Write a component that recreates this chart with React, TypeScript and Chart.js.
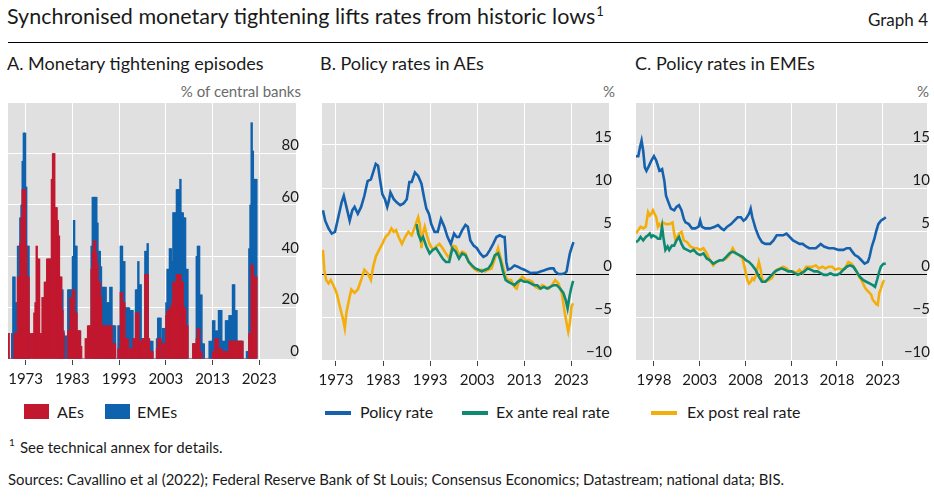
import React, { useEffect, useRef } from 'react';
import { Chart, registerables } from 'chart.js';

Chart.register(...registerables);

const FONT = "Lato, 'Noto Sans', sans-serif";
const TEXT = '#1a1a1a';
const GRAY_TEXT = '#6b6b6b';
const RED = '#c1182f';
const BLUE_BAR = '#0f62ad';
const POLICY_BLUE = '#1561ad';
const GREEN = '#0f8a72';
const YELLOW = '#f3ae0c';

// ---------- Panel A: share of central banks tightening (quarterly, from 1969 Q1) ----------
const A_START_YEAR = 1969;
const A_STEP = 0.25;
const aeShare = [
  10, 10, 0, 0, 0, 0, 10, 10, 10, 32, 32, 45, 55, 66, 66, 66,
  44, 32, 32, 10, 0, 10, 10, 18, 22, 44, 39, 39, 10, 10, 24, 24,
  30, 30, 39, 39, 39, 39, 70, 80, 80, 59, 59, 54, 48, 32, 32, 19,
  10, 0, 0, 0, 11, 11, 24, 24, 27, 27, 18, 18, 11, 11, 11, 5,
  0, 0, 0, 8, 8, 13, 13, 13, 35, 42, 46, 46, 41, 37, 30, 30,
  24, 13, 13, 13, 13, 13, 13, 13, 13, 13, 6, 6, 6, 0, 0, 4,
  4, 26, 26, 22, 22, 8, 8, 8, 4, 4, 4, 4, 8, 8, 18, 18,
  18, 7, 7, 7, 8, 8, 33, 33, 33, 8, 3, 3, 3, 0, 0, 0,
  4, 8, 8, 8, 0, 6, 6, 6, 17, 19, 19, 20, 20, 22, 30, 30,
  30, 33, 33, 33, 33, 30, 30, 20, 20, 13, 13, 0, 0, 0, 0, 6,
  6, 6, 8, 12, 12, 3, 3, 0, 0, 0, 0, 0, 0, 0, 0, 0,
  3, 3, 8, 8, 8, 4, 4, 4, 3, 3, 3, 3, 3, 3, 7, 7,
  7, 7, 7, 7, 7, 7, 7, 7, 7, 7, 0, 0, 0, 0, 0, 10,
  10, 37, 36, 32, 32, 32,
];
const emeShare = [
  0, 0, 0, 0, 10, 32, 32, 22, 22, 44, 44, 55, 60, 77, 88, 88,
  67, 44, 44, 10, 0, 0, 0, 0, 0, 0, 0, 0, 0, 0, 0, 0,
  0, 0, 0, 0, 0, 0, 0, 0, 0, 0, 0, 0, 0, 19, 19, 27,
  11, 9, 9, 9, 27, 27, 27, 27, 40, 54, 44, 44, 11, 11, 11, 0,
  0, 0, 0, 0, 0, 0, 0, 0, 44, 63, 63, 63, 63, 53, 42, 42,
  36, 28, 28, 28, 28, 22, 22, 22, 28, 28, 13, 13, 13, 0, 0, 13,
  13, 44, 44, 38, 38, 20, 20, 20, 20, 19, 19, 19, 6, 6, 27, 27,
  38, 29, 29, 8, 8, 8, 42, 42, 45, 8, 7, 7, 7, 0, 0, 0,
  8, 16, 16, 16, 7, 12, 12, 12, 22, 35, 35, 43, 43, 38, 57, 57,
  57, 66, 66, 66, 70, 57, 57, 55, 55, 35, 35, 0, 0, 0, 0, 6,
  6, 6, 40, 44, 44, 25, 25, 6, 6, 0, 0, 0, 0, 7, 7, 7,
  15, 15, 11, 11, 11, 19, 19, 19, 7, 7, 7, 15, 15, 15, 17, 17,
  17, 29, 29, 19, 19, 7, 7, 7, 7, 7, 0, 0, 0, 3, 3, 43,
  60, 92, 81, 70, 70, 70,
];
const aXTicks = [1973, 1983, 1993, 2003, 2013, 2023];

// ---------- Panel B: policy rates in AEs (%) ----------
const bPolicyYears = [
  1970.23, 1970.71, 1971.41, 1972.1, 1972.79, 1973.49, 1974.18, 1974.66, 1975.22, 1975.91,
  1976.47, 1976.95, 1977.64, 1978.34, 1979.03, 1979.72, 1980.42, 1981.11, 1981.45, 1981.94,
  1982.29, 1982.84, 1983.4, 1983.88, 1984.23, 1984.57, 1985.27, 1985.96, 1986.65, 1987.35,
  1988.04, 1988.59, 1989.08, 1989.77, 1990.46, 1991.16, 1991.71, 1992.2, 1992.75, 1993.24,
  1993.93, 1994.62, 1995.31, 1996.01, 1996.7, 1997.39, 1998.09, 1998.64, 1999.13, 1999.82,
  2000.51, 2001.0, 2001.55, 2002.24, 2002.94, 2003.63, 2004.32, 2005.02, 2005.71, 2006.4,
  2007.1, 2007.79, 2008.48, 2008.83, 2009.18, 2009.52, 2010.21, 2010.91, 2011.6, 2012.29,
  2012.99, 2013.68, 2014.37, 2015.07, 2015.76, 2016.45, 2017.14, 2017.84, 2018.53, 2019.22,
  2019.57, 2020.26, 2020.96, 2021.65, 2021.99, 2022.34, 2022.69, 2023.03, 2023.45,
];
const bPolicy = [
  7.4, 6.2, 5.3, 4.7, 4.9, 6.6, 8.3, 9.1, 7.8, 6.2,
  7.4, 7.8, 7.0, 7.8, 9.1, 10.8, 11.0, 12.2, 12.8, 12.6,
  11.2, 9.3, 8.7, 7.8, 8.5, 9.5, 8.7, 8.3, 8.0, 8.2,
  8.7, 10.7, 10.7, 11.8, 11.4, 10.5, 8.9, 7.6, 7.0, 5.8,
  4.9, 4.9, 6.4, 5.5, 4.3, 3.5, 4.7, 4.3, 4.3, 5.1,
  5.7, 5.5, 3.9, 3.3, 3.0, 2.4, 2.0, 2.2, 2.8, 3.5,
  4.3, 4.5, 4.3, 4.3, 1.4, 0.5, 0.65, 1.0, 0.85, 0.65,
  0.5, 0.3, 0.1, 0.15, 0.15, 0.3, 0.4, 0.55, 0.65, 0.65,
  0.3, 0.0, 0.0, 0.1, 0.3, 1.4, 2.4, 3.0, 3.7,
];
const bExAnteYears = [
  1990.12, 1990.46, 1991.02, 1991.5, 1992.2, 1992.89, 1993.58, 1994.28, 1994.97, 1995.66,
  1996.35, 1997.05, 1997.74, 1998.43, 1999.13, 1999.82, 2000.51, 2001.21, 2001.9, 2002.59,
  2003.28, 2003.98, 2004.67, 2005.36, 2006.06, 2006.75, 2007.44, 2007.93, 2008.48, 2009.04,
  2009.52, 2010.21, 2010.91, 2011.6, 2012.29, 2012.99, 2013.68, 2014.37, 2015.07, 2015.76,
  2016.45, 2017.14, 2017.84, 2018.53, 2019.22, 2019.92, 2020.61, 2021.3, 2021.79, 2022.2,
  2022.55, 2022.9, 2023.38,
];
const bExAnte = [
  5.8, 4.7, 3.9, 4.3, 3.2, 2.4, 2.8, 3.0, 2.4, 1.8,
  1.4, 1.4, 3.0, 2.6, 1.8, 2.4, 2.2, 1.4, 1.0, 0.65,
  0.5, 0.3, 0.5, 0.65, 1.2, 2.2, 2.4, 1.6, 0.3, -0.7,
  -0.9, -1.1, -1.3, -0.9, -0.7, -0.9, -0.9, -1.1, -1.3, -1.3,
  -1.7, -1.5, -1.7, -1.5, -1.3, -1.3, -1.7, -2.2, -3.0, -4.0,
  -2.8, -1.8, -0.8,
];
const bExPostYears = [
  1970.23, 1970.51, 1970.92, 1971.41, 1971.89, 1972.45, 1973.14, 1973.83, 1974.52, 1974.87,
  1975.22, 1975.77, 1976.26, 1976.95, 1977.64, 1978.34, 1979.03, 1979.72, 1980.42, 1980.9,
  1981.45, 1982.15, 1982.84, 1983.53, 1984.23, 1984.78, 1985.27, 1985.75, 1986.31, 1987.0,
  1987.69, 1988.38, 1989.08, 1989.77, 1990.46, 1990.81, 1991.16, 1991.5, 1991.85, 1992.4,
  1992.89, 1993.58, 1994.28, 1994.97, 1995.66, 1996.35, 1997.05, 1997.74, 1998.43, 1999.13,
  1999.82, 2000.51, 2001.21, 2001.9, 2002.59, 2003.28, 2003.98, 2004.67, 2005.36, 2006.06,
  2006.75, 2007.44, 2007.93, 2008.48, 2009.04, 2009.52, 2010.21, 2010.91, 2011.39, 2011.95,
  2012.64, 2013.33, 2014.03, 2014.72, 2015.41, 2016.1, 2016.8, 2017.49, 2018.18, 2018.88,
  2019.57, 2020.26, 2020.96, 2021.51, 2021.99, 2022.34, 2022.69, 2023.03, 2023.38,
];
const bExPost = [
  2.8, 0.5, -0.7, -1.1, -0.7, -1.3, -2.2, -3.8, -5.3, -6.3,
  -4.5, -3.0, -1.8, -2.2, -1.8, -0.7, 0.5, 0.1, -0.7, 0.85,
  2.0, 2.8, 3.5, 4.3, 4.7, 5.3, 4.9, 5.1, 4.3, 3.5,
  4.3, 4.9, 4.5, 5.5, 6.6, 5.8, 3.0, 4.8, 5.5, 4.3,
  3.5, 2.8, 3.2, 3.5, 3.0, 2.4, 1.8, 3.3, 3.2, 2.2,
  2.6, 2.4, 1.4, 0.85, 0.5, 0.3, 0.5, 0.3, 0.5, 0.65,
  1.8, 3.0, 2.0, 0.85, -0.3, -0.7, -0.7, -1.5, -1.7, -0.7,
  -0.3, -0.7, -0.7, -0.9, -1.5, -1.7, -1.3, -1.5, -1.7, -1.3,
  -0.7, -1.1, -2.2, -4.2, -5.7, -6.7, -5.7, -3.8, -3.4,
];
const bXTicks = [1973, 1983, 1993, 2003, 2013, 2023];

// ---------- Panel C: policy rates in EMEs (%) ----------
const cPolicyYears = [
  1996.04, 1996.29, 1996.47, 1996.65, 1996.83, 1997.0, 1997.18, 1997.47, 1997.72, 1998.0,
  1998.25, 1998.43, 1998.6, 1998.89, 1999.14, 1999.32, 1999.6, 1999.85, 2000.21, 2000.46,
  2000.74, 2001.02, 2001.27, 2001.45, 2001.81, 2002.16, 2002.52, 2002.88, 2003.05, 2003.23,
  2003.59, 2004.12, 2004.65, 2005.01, 2005.37, 2005.65, 2006.01, 2006.43, 2006.79, 2007.15,
  2007.5, 2007.79, 2008.04, 2008.39, 2008.57, 2008.75, 2009.1, 2009.46, 2009.81, 2010.17,
  2010.7, 2011.06, 2011.42, 2011.77, 2012.13, 2012.48, 2012.84, 2013.2, 2013.55, 2013.91,
  2014.26, 2014.62, 2014.98, 2015.33, 2015.69, 2016.04, 2016.22, 2016.58, 2017.11, 2017.64,
  2018.18, 2018.71, 2019.07, 2019.42, 2019.67, 2019.96, 2020.31, 2020.67, 2021.02, 2021.38,
  2021.56, 2021.81, 2022.09, 2022.27, 2022.52, 2022.8, 2023.09, 2023.34,
];
const cPolicy = [
  13.7, 13.7, 14.7, 15.5, 14.3, 12.4, 12.0, 12.6, 13.2, 13.7,
  13.2, 12.6, 12.0, 12.2, 10.8, 9.1, 8.3, 7.6, 7.4, 7.8,
  8.0, 7.4, 6.4, 6.0, 5.8, 5.3, 5.3, 5.5, 6.2, 5.5,
  5.3, 5.3, 5.5, 5.7, 5.3, 5.1, 5.5, 5.8, 6.2, 6.6,
  6.6, 6.2, 6.4, 7.0, 7.6, 6.6, 5.3, 4.3, 3.7, 3.5,
  3.5, 3.9, 4.5, 4.5, 4.5, 4.7, 4.3, 3.9, 3.7, 3.5,
  3.5, 3.2, 3.0, 3.0, 3.0, 3.3, 3.5, 3.2, 3.0, 3.0,
  2.8, 2.8, 3.0, 3.0, 2.6, 2.2, 2.0, 1.6, 1.2, 1.4,
  2.0, 3.2, 4.1, 4.9, 5.8, 6.2, 6.4, 6.6,
];
const cExAnteYears = [
  1996.04, 1996.29, 1996.54, 1996.83, 1997.11, 1997.36, 1997.54, 1997.72, 1997.89, 1998.25,
  1998.43, 1998.68, 1998.89, 1999.03, 1999.25, 1999.49, 1999.67, 1999.96, 2000.21, 2000.46,
  2000.74, 2001.02, 2001.27, 2001.63, 2001.99, 2002.34, 2002.7, 2003.05, 2003.41, 2003.77,
  2004.12, 2004.48, 2004.83, 2005.19, 2005.54, 2005.9, 2006.26, 2006.61, 2006.97, 2007.32,
  2007.68, 2008.04, 2008.39, 2008.75, 2009.1, 2009.46, 2009.81, 2010.17, 2010.53, 2010.88,
  2011.24, 2011.59, 2011.95, 2012.31, 2012.66, 2013.02, 2013.37, 2013.73, 2014.09, 2014.44,
  2014.8, 2015.15, 2015.51, 2015.86, 2016.22, 2016.58, 2016.93, 2017.29, 2017.64, 2018.0,
  2018.36, 2018.71, 2019.07, 2019.42, 2019.78, 2020.14, 2020.49, 2020.85, 2021.2, 2021.56,
  2021.91, 2022.16, 2022.38, 2022.63, 2022.8, 2023.09, 2023.34,
];
const cExAnte = [
  3.7, 3.9, 4.3, 3.9, 4.3, 4.5, 4.7, 4.3, 4.5, 4.3,
  4.1, 4.1, 5.5, 4.3, 2.8, 3.2, 2.8, 3.3, 3.3, 3.9,
  4.3, 3.5, 3.0, 2.8, 2.6, 2.8, 2.4, 2.2, 2.4, 1.8,
  1.6, 1.2, 1.4, 1.6, 1.6, 2.0, 2.4, 2.6, 2.4, 2.2,
  2.0, 1.6, 1.4, 1.0, 0.5, -0.3, -0.9, -0.9, -0.5, -0.1,
  0.3, 0.5, 0.65, 0.5, 0.3, 0.3, 0.1, -0.1, 0.1, 0.3,
  0.65, 0.5, 0.3, 0.3, 0.1, -0.1, -0.1, 0.1, -0.1, -0.1,
  0.1, 0.5, 0.85, 1.0, 0.85, 0.3, -0.3, -0.7, -0.9, -1.1,
  -1.3, -1.5, -0.7, 0.3, 0.85, 1.2, 1.2,
];
const cExPostYears = [
  1996.04, 1996.29, 1996.54, 1996.83, 1997.11, 1997.36, 1997.54, 1997.72, 1997.89, 1998.07,
  1998.25, 1998.43, 1998.6, 1998.78, 1998.96, 1999.32, 1999.67, 2000.03, 2000.21, 2000.38,
  2000.74, 2001.02, 2001.27, 2001.63, 2001.99, 2002.34, 2002.7, 2003.05, 2003.41, 2003.77,
  2004.12, 2004.48, 2004.83, 2005.19, 2005.54, 2005.9, 2006.26, 2006.61, 2006.97, 2007.32,
  2007.68, 2007.86, 2008.04, 2008.21, 2008.39, 2008.57, 2008.75, 2008.93, 2009.1, 2009.28,
  2009.46, 2009.64, 2009.81, 2009.99, 2010.17, 2010.53, 2010.88, 2011.06, 2011.42, 2011.77,
  2012.13, 2012.48, 2012.84, 2013.2, 2013.55, 2013.91, 2014.26, 2014.62, 2014.98, 2015.33,
  2015.69, 2016.04, 2016.4, 2016.75, 2017.11, 2017.47, 2017.82, 2018.18, 2018.53, 2018.89,
  2019.25, 2019.6, 2019.96, 2020.31, 2020.67, 2021.02, 2021.2, 2021.38, 2021.56, 2021.74,
  2021.91, 2022.09, 2022.27, 2022.45, 2022.63, 2022.8, 2022.98, 2023.16,
];
const cExPost = [
  4.7, 5.1, 5.5, 5.3, 5.5, 7.2, 6.8, 7.0, 7.4, 7.0,
  6.6, 5.5, 5.8, 5.5, 6.0, 5.8, 5.8, 6.0, 4.7, 3.9,
  4.7, 4.9, 3.9, 3.7, 3.2, 3.0, 3.0, 2.8, 3.0, 2.4,
  1.6, 1.0, 1.4, 1.6, 1.6, 1.8, 2.2, 3.0, 2.4, 2.2,
  1.8, 1.0, 0.1, -0.7, -1.1, -0.9, -0.5, -0.7, -0.3, 0.5,
  1.4, 0.65, -0.5, -0.9, -0.9, -0.7, -0.5, -0.1, 0.5, 0.65,
  0.85, 0.65, 0.3, 0.3, 0.1, 0.5, 0.1, 0.85, 0.85, 0.85,
  1.0, 0.65, 0.85, 0.65, 0.85, 0.85, 0.5, 0.65, 0.5, 0.65,
  1.4, 1.2, 0.65, -0.1, -0.7, -1.5, -1.8, -2.0, -2.2, -2.4,
  -3.0, -3.2, -3.5, -3.6, -2.2, -1.7, -1.1, -0.7,
];
const cXTicks = [1998, 2003, 2008, 2013, 2018, 2023];

// ---------- helpers ----------
const bgPlugin = {
  id: 'grayBg',
  beforeDraw(chart: any) {
    const { ctx, chartArea: a } = chart;
    ctx.save();
    ctx.fillStyle = '#e0e0e0';
    ctx.fillRect(a.left, a.top, a.right - a.left, a.bottom - a.top);
    ctx.restore();
  },
};

function xAxis(min: number, max: number, ticks: number[]) {
  return {
    type: 'linear',
    min,
    max,
    offset: false,
    afterBuildTicks: (s: any) => {
      s.ticks = ticks.map((v) => ({ value: v }));
    },
    afterFit: (s: any) => {
      s.height = 36;
    },
    grid: {
      color: '#ffffff',
      lineWidth: 1,
      offset: false,
      drawTicks: true,
      tickLength: 6,
      tickColor: '#444444',
      tickWidth: 1,
    },
    border: { display: false },
    ticks: {
      autoSkip: false,
      maxRotation: 0,
      padding: 5,
      color: TEXT,
      font: { family: FONT, size: 15 },
      callback: (v: any) => String(v),
    },
  };
}

function yAxis(min: number, max: number, step: number, zeroLine: boolean) {
  return {
    type: 'linear',
    position: 'right',
    min,
    max,
    grid: {
      color: (c: any) => (zeroLine && c.tick && c.tick.value === 0 ? '#000000' : '#ffffff'),
      lineWidth: 1,
      drawTicks: false,
    },
    border: { display: false },
    ticks: {
      stepSize: step,
      mirror: true,
      padding: 3,
      labelOffset: -8,
      color: TEXT,
      font: { family: FONT, size: 15 },
      callback: (v: any) => (v === max ? '' : String(v).replace('-', '\u2212')),
    },
  };
}

function pts(xs: number[], ys: number[]) {
  return ys.map((y, i) => ({ x: xs[i], y }));
}

function panelAConfig(): any {
  const toBars = (arr: number[]) => arr.map((v, i) => ({ x: A_START_YEAR + i * A_STEP + A_STEP / 2, y: v }));
  const common = { grouped: false, barThickness: 2, borderWidth: 0, inflateAmount: 0.2 };
  return {
    type: 'bar',
    data: {
      datasets: [
        { label: 'AEs', data: toBars(aeShare), backgroundColor: RED, ...common },
        { label: 'EMEs', data: toBars(emeShare), backgroundColor: BLUE_BAR, ...common },
      ],
    },
    options: {
      animation: false,
      responsive: false,
      layout: { padding: { left: 8, top: 20, right: 0, bottom: 0 } },
      plugins: { legend: { display: false }, tooltip: { enabled: false } },
      scales: { x: xAxis(1969.23, 2030.86, aXTicks), y: yAxis(0, 100, 20, false) },
    },
    plugins: [bgPlugin],
  };
}

function lineConfig(
  xMin: number,
  xMax: number,
  ticks: number[],
  policy: any[],
  exAnte: any[],
  exPost: any[]
): any {
  const ds = (label: string, data: any[], color: string) => ({
    label,
    data,
    borderColor: color,
    backgroundColor: color,
    borderWidth: 2.6,
    pointRadius: 0,
    tension: 0,
    fill: false,
  });
  return {
    type: 'line',
    data: {
      datasets: [
        ds('Policy rate', policy, POLICY_BLUE),
        ds('Ex ante real rate', exAnte, GREEN),
        ds('Ex post real rate', exPost, YELLOW),
      ],
    },
    options: {
      animation: false,
      responsive: false,
      layout: { padding: { left: 10, top: 20, right: 0, bottom: 0 } },
      plugins: { legend: { display: false }, tooltip: { enabled: false } },
      scales: { x: xAxis(xMin, xMax, ticks), y: yAxis(-10, 20, 5, true) },
    },
    plugins: [bgPlugin],
  };
}

function ChartCanvas(props: { left: number; top: number; width: number; height: number; make: () => any }) {
  const ref = useRef<HTMLCanvasElement | null>(null);
  useEffect(() => {
    const chart = new Chart(ref.current as HTMLCanvasElement, props.make());
    return () => chart.destroy();
  }, []);
  return (
    <canvas
      ref={ref}
      width={props.width}
      height={props.height}
      style={{ position: 'absolute', left: props.left, top: props.top, width: props.width, height: props.height }}
    />
  );
}

function Txt(props: { left?: number; right?: number; top: number; size: number; color?: string; children: any }) {
  const st: any = {
    position: 'absolute',
    top: props.top,
    fontSize: props.size,
    lineHeight: `${props.size}px`,
    color: props.color || TEXT,
    whiteSpace: 'nowrap',
    fontFamily: FONT,
  };
  if (props.left !== undefined) st.left = props.left;
  if (props.right !== undefined) st.right = props.right;
  return <div style={st}>{props.children}</div>;
}

function Box(props: { left: number; top: number; width: number; height: number; color: string }) {
  return (
    <div
      style={{
        position: 'absolute',
        left: props.left,
        top: props.top,
        width: props.width,
        height: props.height,
        background: props.color,
      }}
    />
  );
}

export default function App() {
  return (
    <div
      style={{
        position: 'absolute',
        left: 0,
        top: 0,
        width: 934,
        height: 498,
        background: '#ffffff',
        fontFamily: FONT,
        overflow: 'hidden',
      }}
    >
      <Txt left={7} top={6} size={21.5}>
        Synchronised monetary tightening lifts rates from historic lows
        <span style={{ fontSize: 13, position: 'relative', top: -8, marginLeft: 1 }}>1</span>
      </Txt>
      <Txt right={6} top={11} size={17}>
        Graph 4
      </Txt>
      <Box left={8} top={42} width={920} height={1} color="#000000" />

      <Txt left={7} top={54} size={18}>
        A. Monetary tightening episodes
      </Txt>
      <Txt left={320} top={54} size={18}>
        B. Policy rates in AEs
      </Txt>
      <Txt left={635} top={54} size={18}>
        C. Policy rates in EMEs
      </Txt>

      <Txt right={934 - 301} top={84} size={15} color={GRAY_TEXT}>
        % of central banks
      </Txt>
      <Txt right={934 - 615} top={84} size={15} color={GRAY_TEXT}>
        %
      </Txt>
      <Txt right={934 - 929} top={84} size={15} color={GRAY_TEXT}>
        %
      </Txt>

      <ChartCanvas left={0} top={82} width={302} height={313} make={panelAConfig} />
      <ChartCanvas
        left={312}
        top={82}
        width={303}
        height={314}
        make={() =>
          lineConfig(
            1970.03,
            2031.0,
            bXTicks,
            pts(bPolicyYears, bPolicy),
            pts(bExAnteYears, bExAnte),
            pts(bExPostYears, bExPost)
          )
        }
      />
      <ChartCanvas
        left={626}
        top={82}
        width={307}
        height={314}
        make={() =>
          lineConfig(
            1996.04,
            2027.84,
            cXTicks,
            pts(cPolicyYears, cPolicy),
            pts(cExAnteYears, cExAnte),
            pts(cExPostYears, cExPost)
          )
        }
      />

      {/* Legend panel A */}
      <Box left={24} top={404} width={25} height={15} color={RED} />
      <Txt left={57} top={404} size={16}>
        AEs
      </Txt>
      <Box left={105} top={404} width={25} height={15} color={BLUE_BAR} />
      <Txt left={137} top={404} size={16}>
        EMEs
      </Txt>

      {/* Legend panels B and C */}
      <Box left={325} top={411} width={26} height={4} color={POLICY_BLUE} />
      <Txt left={360} top={404} size={16}>
        Policy rate
      </Txt>
      <Box left={462} top={411} width={26} height={4} color={GREEN} />
      <Txt left={496} top={404} size={16}>
        Ex ante real rate
      </Txt>
      <Box left={651} top={411} width={26} height={4} color={YELLOW} />
      <Txt left={687} top={404} size={16}>
        Ex post real rate
      </Txt>

      <Txt left={9} top={437} size={10}>
        1
      </Txt>
      <Txt left={20} top={440} size={15}>
        See technical annex for details.
      </Txt>
      <Txt left={8} top={472} size={14.9}>
        Sources: Cavallino et al (2022); Federal Reserve Bank of St Louis; Consensus Economics; Datastream; national data; BIS.
      </Txt>
    </div>
  );
}
